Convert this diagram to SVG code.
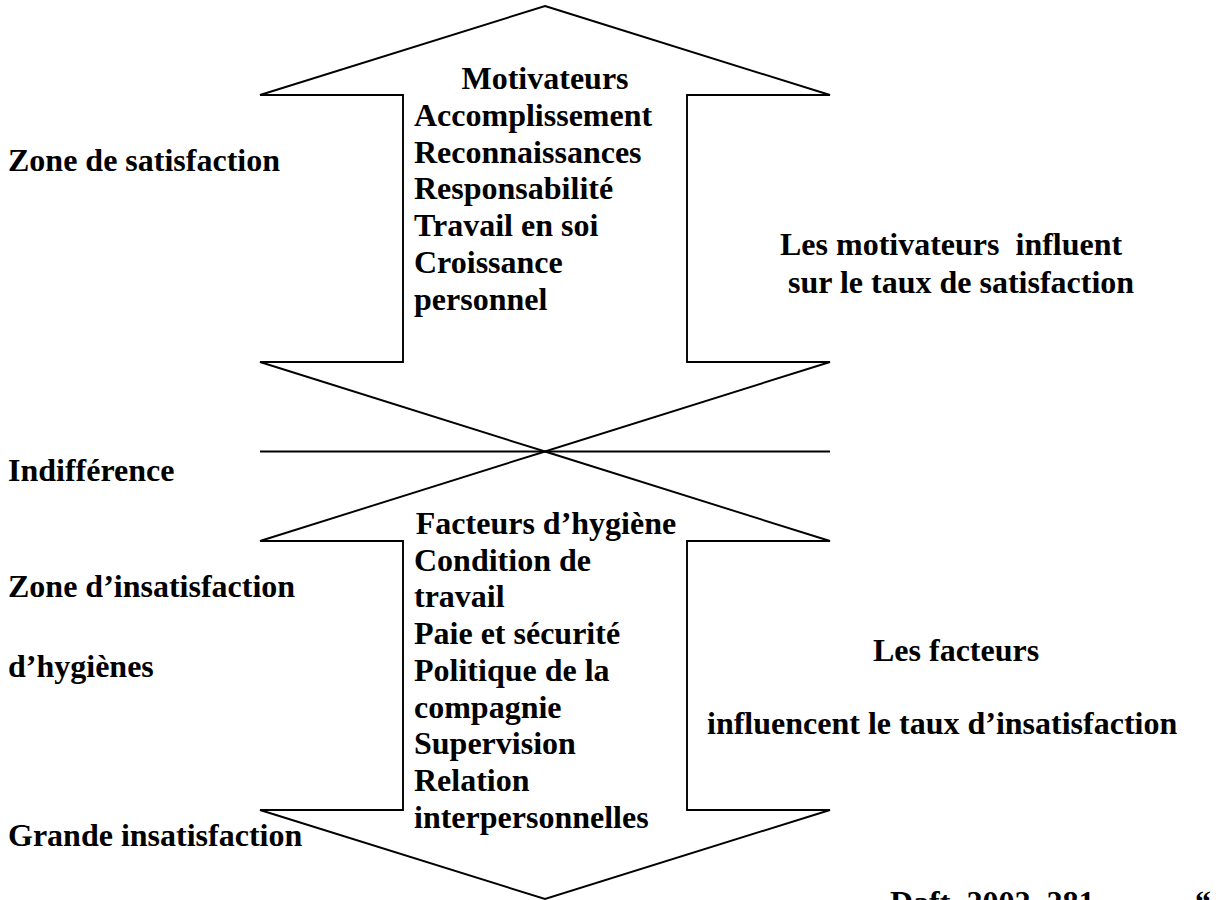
<svg xmlns="http://www.w3.org/2000/svg" width="1228" height="900" viewBox="0 0 1228 900">
  <style>
    .shape { fill: none; stroke: #000; stroke-width: 1.9; stroke-linejoin: miter; }
    .txt { font-family: "Liberation Serif", "Times New Roman", serif; font-weight: bold; font-size: 32px; fill: #000; }
    .mid { text-anchor: middle; }
  </style>
  <rect width="1228" height="900" fill="#fff"/>

  <!-- upper double arrow: motivators -->
  <g id="arrow-motivateurs">
    <polygon class="shape" points="545,6 830,95 687,95 687,362 830,362 545,451.5 260,362 403,362 403,95 260,95"/>
    <text class="txt mid" x="545" y="89">Motivateurs</text>
    <text class="txt" x="414" y="126">Accomplissement</text>
    <text class="txt" x="414" y="162.7">Reconnaissances</text>
    <text class="txt" x="414" y="199.4">Responsabilité</text>
    <text class="txt" x="414" y="236.1">Travail en soi</text>
    <text class="txt" x="414" y="272.8">Croissance</text>
    <text class="txt" x="414" y="309.5">personnel</text>
  </g>

  <!-- lower double arrow: hygiene factors -->
  <g id="arrow-hygiene">
    <polygon class="shape" points="545,451.5 830,541 687,541 687,810 830,810 545,899 260,810 403,810 403,541 260,541"/>
    <text class="txt mid" x="546" y="534">Facteurs d’hygiène</text>
    <text class="txt" x="414" y="570.7">Condition de</text>
    <text class="txt" x="414" y="607.4">travail</text>
    <text class="txt" x="414" y="644.1">Paie et sécurité</text>
    <text class="txt" x="414" y="680.8">Politique de la</text>
    <text class="txt" x="414" y="717.5">compagnie</text>
    <text class="txt" x="414" y="754.2">Supervision</text>
    <text class="txt" x="414" y="790.9">Relation</text>
    <text class="txt" x="414" y="827.6">interpersonnelles</text>
  </g>

  <!-- neutral axis -->
  <g id="connectors">
    <line class="shape" x1="260" y1="451.5" x2="830" y2="451.5"/>
  </g>

  <!-- zone labels on the left -->
  <g id="label-satisfaction"><text class="txt" x="8" y="171">Zone de satisfaction</text></g>
  <g id="label-indifference"><text class="txt" x="8" y="481">Indifférence</text></g>
  <g id="label-insatisfaction">
    <text class="txt" x="8" y="597">Zone d’insatisfaction</text>
    <text class="txt" x="8" y="677">d’hygiènes</text>
  </g>
  <g id="label-grande"><text class="txt" x="8" y="846">Grande insatisfaction</text></g>

  <!-- explanations on the right -->
  <g id="note-motivateurs">
    <text class="txt" x="780" y="255" xml:space="preserve">Les motivateurs  influent</text>
    <text class="txt" x="780" y="293" xml:space="preserve"> sur le taux de satisfaction</text>
  </g>
  <g id="note-facteurs">
    <text class="txt" x="873" y="661">Les facteurs</text>
    <text class="txt" x="707" y="734">influencent le taux d’insatisfaction</text>
  </g>

  <!-- source reference, running off the bottom edge -->
  <g id="source">
    <text class="txt" x="890" y="913">Daft, 2002, 281</text>
    <text class="txt" x="1195" y="913">“</text>
  </g>
</svg>
